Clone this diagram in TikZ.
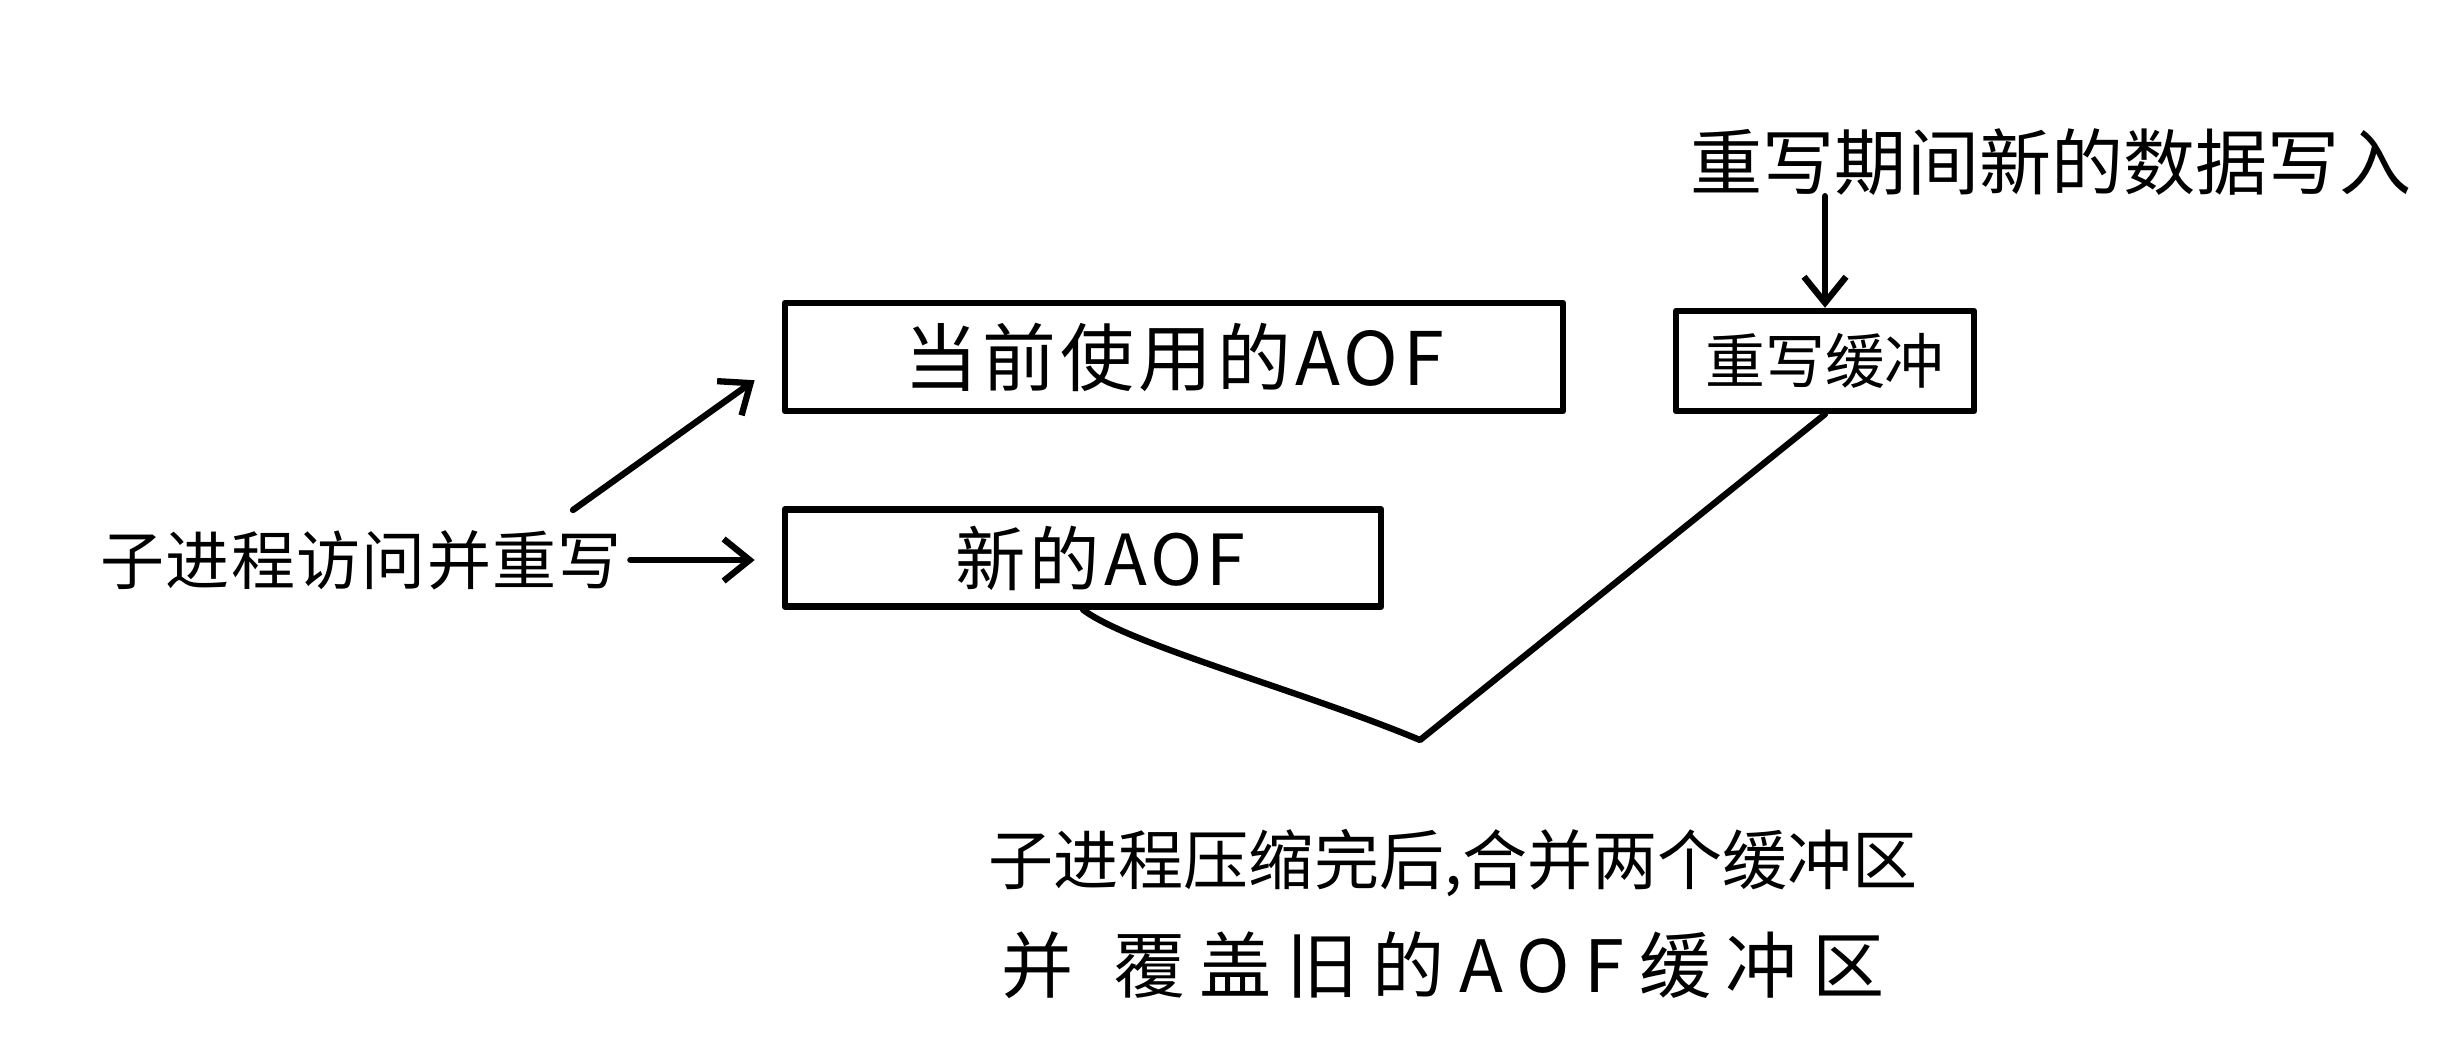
\documentclass[tikz,border=0pt]{standalone}
\usepackage{fontspec}
\setmainfont{Noto Sans CJK SC}
\usetikzlibrary{arrows.meta,calc}
\newcommand\fsz[1]{\fontsize{#1}{#1}\selectfont}

\begin{document}
\begin{tikzpicture}[x=0.01cm,y=-0.01cm,
  ink/.style={line width=1.8pt,line cap=round,line join=round},
  tip/.style={-{Straight Barb[length=0.26cm,width=0.42cm,line width=1.8pt]}},
  buf/.style={ink,draw,inner sep=0pt},
  txt/.style={inner sep=0pt}]

\path[use as bounding box] (0,0) rectangle (2461,1036);

% buffers
\node[buf,minimum width=7.78cm,minimum height=1.08cm,font={\fsz{21pt}\addfontfeature{LetterSpace=6}}] (cur) at (1174,357) {当前使用的AOF};
\node[buf,minimum width=5.96cm,minimum height=0.97cm,font={\fsz{20pt}\addfontfeature{LetterSpace=6}},text width=5.96cm,align=center] (new) at (1083,558) {\hspace*{0.35cm}新的AOF};
\node[buf,minimum width=2.98cm,minimum height=1.00cm,font=\fsz{17pt}] (rw) at (1825,361) {重写缓冲};

% labels
\node[txt,font=\fsz{20.5pt},anchor=west] (incoming) at (1690,162) {重写期间新的数据写入};
\node[txt,font={\fsz{18.2pt}\addfontfeature{LetterSpace=2}},anchor=west] (child) at (100,560) {子进程访问并重写};
\node[txt,font=\fsz{18.5pt},anchor=west] (merge1) at (988,863) {子进程压缩完后,合并两个缓冲区};
\node[txt,font={\fsz{20.5pt}\addfontfeature{LetterSpace=20}},anchor=west] (merge2) at (1001,965) {并\hspace{0.55em}覆盖旧的AOF缓冲区};

% arrows
\draw[ink,tip] (incoming.south -| rw.north) -- (rw.north);
\draw[ink,tip,shorten <=0.08cm,shorten >=0.27cm] (child.east) -- (child.east -| new.west);
\coordinate (d0) at (573,510);
\coordinate (d1) at ($(cur.south west)+(-27,-34)$);
\draw[ink,tip] (d0) -- (d1);

% merge connector
\coordinate (v) at (1420,740);
\draw[ink] (new.south) .. controls (1130,645) and (1300,690) .. (v) -- (rw.south);
\end{tikzpicture}
\end{document}
